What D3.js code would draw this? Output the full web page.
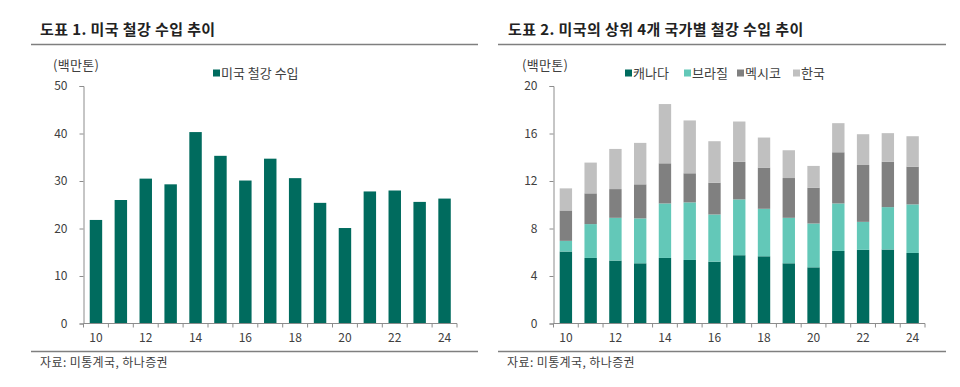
<!DOCTYPE html>
<html><head><meta charset="utf-8">
<script src="https://cdn.jsdelivr.net/npm/d3@7"></script>
<style>
body{margin:0;background:#fff;}
svg text{font-family:"Noto Sans CJK KR","Noto Sans",sans-serif;}
</style></head>
<body><svg id="c" width="960" height="387"></svg>
<script>
const years = ["10","11","12","13","14","15","16","17","18","19","20","21","22","23","24"];
const xTickLabels = ["10","12","14","16","18","20","22","24"];
const usImports = [21.8,26.0,30.5,29.3,40.3,35.3,30.1,34.7,30.6,25.4,20.1,27.8,28.0,25.6,26.3];
const canada = [6.06,5.52,5.30,5.07,5.52,5.35,5.21,5.75,5.66,5.07,4.73,6.11,6.20,6.23,5.94];
const brazil = [0.90,2.85,3.60,3.78,4.59,4.85,3.97,4.70,4.00,3.83,3.69,4.00,2.36,3.57,4.09];
const mexico = [2.56,2.59,2.42,2.87,3.38,2.45,2.68,3.16,3.47,3.35,3.02,4.31,4.79,3.81,3.18];
const korea  = [1.86,2.59,3.38,3.49,4.99,4.45,3.49,3.40,2.53,2.34,1.83,2.45,2.59,2.42,2.56];
const seriesNames = ["캐나다","브라질","멕시코","한국"];
const leftTicks = [0,10,20,30,40,50];
const rightTicks = [0,4,8,12,16,20];

const colors = ["#006B5E","#63C8B8","#808080","#C0C0C0"];
const svg = d3.select("#c");
const txt = "#404040", axisCol = "#8c8c8c";

function panel(o){
  const g = svg.append("g");
  g.append("text").attr("x",o.titleX).attr("y",35).attr("font-size",15).attr("font-weight","bold")
    .attr("letter-spacing",0.4).attr("fill","#222").text(o.title);
  g.append("line").attr("x1",o.lineX1).attr("x2",o.lineX2).attr("y1",44.5).attr("y2",44.5)
    .attr("stroke","#7f7f7f").attr("stroke-width",1.3);
  g.append("line").attr("x1",o.lineX1).attr("x2",o.lineX2).attr("y1",351.5).attr("y2",351.5)
    .attr("stroke","#7f7f7f").attr("stroke-width",1.3);
  g.append("text").attr("x",o.srcX).attr("y",366.5).attr("font-size",12).attr("letter-spacing",0.4)
    .attr("fill",txt).text("자료: 미통계국, 하나증권");
  g.append("text").attr("x",o.unitX).attr("y",69.5).attr("font-size",13).attr("letter-spacing",0.3)
    .attr("fill",txt).text("(백만톤)");

  const x = d3.scaleBand().domain(years).range([o.x0,o.x1]).paddingInner(0.5).paddingOuter(0.25);
  const y = d3.scaleLinear().domain([0,o.ymax]).range([323.5,86]);
  const step = x.step();

  const ya = g.append("g").attr("transform",`translate(${o.x0},0)`)
    .call(d3.axisLeft(y).tickValues(o.yticks).tickSize(4).tickPadding(12));
  ya.select(".domain").attr("stroke",axisCol);
  ya.selectAll(".tick line").attr("stroke",axisCol);
  ya.selectAll("text").attr("font-size",12).attr("fill",txt).attr("font-family",'"Noto Sans CJK KR",sans-serif');

  o.draw(g,x,y);

  const xa = g.append("g").attr("transform","translate(0,323.5)");
  xa.append("line").attr("x1",o.x0).attr("x2",o.x1).attr("stroke",axisCol);
  d3.range(years.length+1).forEach(i=>{
    xa.append("line").attr("x1",o.x0+i*step).attr("x2",o.x0+i*step).attr("y1",0).attr("y2",4).attr("stroke",axisCol);
  });
  xTickLabels.forEach(t=>{
    xa.append("text").attr("x",x(t)+x.bandwidth()/2).attr("y",18).attr("text-anchor","middle")
      .attr("font-size",12).attr("fill",txt).text(t);
  });
}

panel({title:"도표 1. 미국 철강 수입 추이",titleX:40,lineX1:31,lineX2:478,srcX:40,unitX:53,
  x0:83.5,x1:457,ymax:50,yticks:leftTicks,
  draw:(g,x,y)=>{
    g.selectAll("rect.b").data(usImports).join("rect").attr("class","b")
      .attr("x",(d,i)=>x(years[i])).attr("width",x.bandwidth())
      .attr("y",d=>y(d)).attr("height",d=>y(0)-y(d)).attr("fill",colors[0]);
    g.append("rect").attr("x",213).attr("y",69.5).attr("width",7).attr("height",7).attr("fill",colors[0]);
    g.append("text").attr("x",221).attr("y",78).attr("font-size",13).attr("fill",txt).text("미국 철강 수입");
  }});

panel({title:"도표 2. 미국의 상위 4개 국가별 철강 수입 추이",titleX:508,lineX1:498,lineX2:946,srcX:507,unitX:522,
  x0:553.5,x1:925,ymax:20,yticks:rightTicks,
  draw:(g,x,y)=>{
    const rows = years.map((yr,i)=>({yr,c:canada[i],b:brazil[i],m:mexico[i],k:korea[i]}));
    const stack = d3.stack().keys(["c","b","m","k"])(rows);
    stack.forEach((s,si)=>{
      g.append("g").selectAll("rect").data(s).join("rect")
        .attr("x",d=>x(d.data.yr)).attr("width",x.bandwidth())
        .attr("y",d=>y(d[1])).attr("height",d=>y(d[0])-y(d[1])).attr("fill",colors[si]);
    });
    const lx = [625,684,737,793];
    seriesNames.forEach((n,i)=>{
      g.append("rect").attr("x",lx[i]).attr("y",69.5).attr("width",7).attr("height",7).attr("fill",colors[i]);
      g.append("text").attr("x",lx[i]+8).attr("y",78).attr("font-size",13).attr("fill",txt).text(n);
    });
  }});
</script></body></html>
